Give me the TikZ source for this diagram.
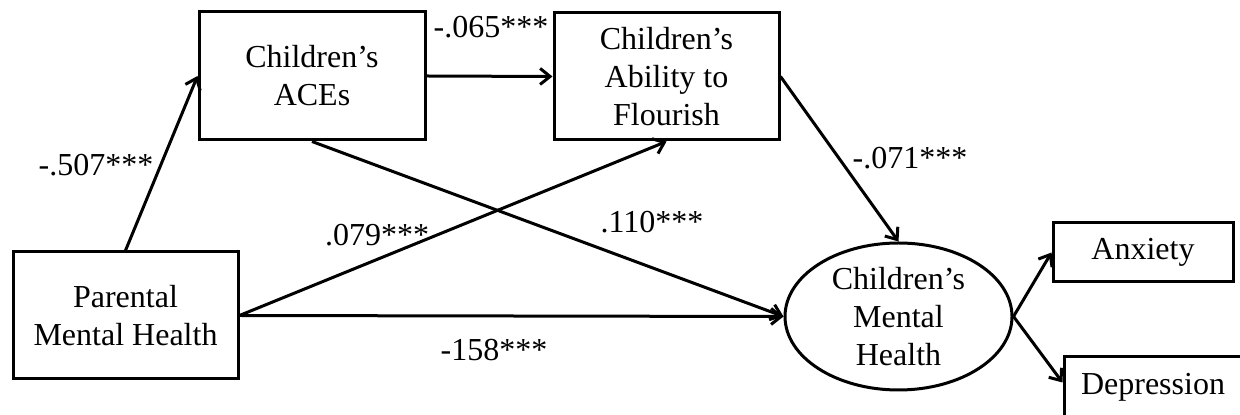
\documentclass[tikz,border=0pt]{standalone}
\usepackage{fontspec}
\setmainfont{Liberation Serif}
\usetikzlibrary{arrows.meta,shapes.geometric}
\begin{document}
\begin{tikzpicture}[x=0.5pt,y=-0.5pt,
  every node/.style={font=\fontsize{16}{19}\selectfont},
  box/.style={draw,line width=1.5pt,rectangle,align=center,inner sep=0pt},
  oval/.style={draw,line width=1.5pt,ellipse,align=center,inner sep=0pt},
  conn/.style={line width=1.5pt,-{Straight Barb[length=5pt,width=8pt,line width=1.5pt]}},
  coef/.style={inner sep=0pt}]
\useasboundingbox (0,0) rectangle (1240,415);
\node[box,minimum width=112.5pt,minimum height=63.5pt] (P) at (125.5,315.5) {Parental\\Mental Health};
\node[box,minimum width=113pt,minimum height=64pt] (A) at (312,76) {Children’s\\ACEs};
\node[box,minimum width=112.5pt,minimum height=63.5pt] (F) at (666.5,76.5) {Children’s\\Ability to\\Flourish};
\node[oval,minimum width=113.5pt,minimum height=73.5pt] (M) at (898.5,316.5) {Children’s\\Mental\\Health};
\node[box,minimum width=90pt,minimum height=29.5pt] (X) at (1143,252.5) {Anxiety};
\node[box,minimum width=89pt,minimum height=30.5pt] (D) at (1153,387.5) {Depression};

\draw[conn] (P.north) -- (A.west);
\draw[conn] (A.east) -- (F.west);
\draw[conn] (A.south) -- (M.west);
\draw[conn] (P.east) -- (F.south);
\draw[conn] (P.east) -- (M.west);
\draw[conn] (F.east) -- (M.north);
\draw[conn] (M.east) -- (X.west);
\draw[conn] (M.east) -- ([yshift=2.5pt]D.west);

\node[coef] (l1) at (96,165) {-.507***};
\node[coef] (l2) at (491,27) {-.065***};
\node[coef] (l3) at (377,235) {.079***};
\node[coef] (l4) at (652,222) {.110***};
\node[coef] (l5) at (910,158) {-.071***};
\node[coef] (l6) at (494,350) {-158***};
\end{tikzpicture}
\end{document}
